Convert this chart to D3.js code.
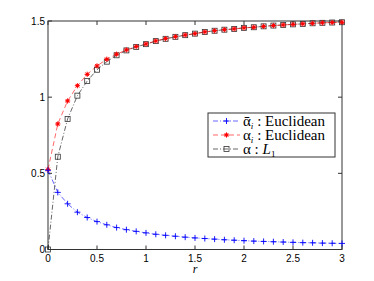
<!DOCTYPE html>
<html>
<head>
<meta charset="utf-8">
<script src="https://cdn.jsdelivr.net/npm/d3@7"></script>
<style>
body { margin: 0; background: #fff; }
svg text { font-family: "Liberation Sans", Arial, sans-serif; }
</style>
</head>
<body>
<div id="chart"></div>
<script>
var rValues = d3.range(31).map(function(i) { return +(i * 0.1).toFixed(1); });
var alphaBarEuclid = [0.52, 0.375, 0.30, 0.245, 0.21, 0.183, 0.162, 0.144, 0.130, 0.119, 0.109,
    0.100, 0.093, 0.087, 0.081, 0.076, 0.072, 0.068, 0.064, 0.061, 0.058,
    0.055, 0.053, 0.051, 0.049, 0.047, 0.045, 0.044, 0.042, 0.041, 0.040];
var alphaEuclid = [0.525, 0.824, 0.975, 1.075, 1.150, 1.205, 1.249, 1.282, 1.310, 1.332, 1.349,
    1.369, 1.384, 1.397, 1.408, 1.417, 1.428, 1.436, 1.443, 1.448, 1.455,
    1.459, 1.465, 1.470, 1.474, 1.478, 1.481, 1.485, 1.488, 1.490, 1.492];
var alphaL1 = [0, 0.609, 0.857, 1.01, 1.106, 1.18, 1.233, 1.275, 1.307, 1.330, 1.348,
    1.368, 1.383, 1.396, 1.407, 1.417, 1.428, 1.436, 1.443, 1.448, 1.455,
    1.459, 1.465, 1.470, 1.474, 1.478, 1.481, 1.485, 1.488, 1.490, 1.492];
var xTicks = [0, 0.5, 1, 1.5, 2, 2.5, 3];
var yTicks = [0, 0.5, 1, 1.5];

var width = 374, height = 281;
var mLeft = 48, mRight = 342, mTop = 21, mBottom = 249.5;

var svg = d3.select("#chart").append("svg").attr("width", width).attr("height", height);
var x = d3.scaleLinear().domain([0, 3]).range([mLeft, mRight]);
var y = d3.scaleLinear().domain([0, 1.5]).range([mBottom, mTop]);

// frame
svg.append("rect").attr("x", mLeft).attr("y", mTop).attr("width", mRight - mLeft).attr("height", mBottom - mTop)
    .style("fill", "#fff").style("stroke", "#333").style("stroke-width", 1);

// ticks (inward, on all sides)
var tickLen = 4;
xTicks.forEach(function(t) {
    svg.append("line").attr("x1", x(t)).attr("x2", x(t)).attr("y1", mBottom).attr("y2", mBottom - tickLen).style("stroke", "#333");
    svg.append("line").attr("x1", x(t)).attr("x2", x(t)).attr("y1", mTop).attr("y2", mTop + tickLen).style("stroke", "#333");
    svg.append("text").attr("x", x(t)).attr("y", mBottom + 12).attr("text-anchor", "middle")
        .style("font-size", "10px").text(t);
});
yTicks.forEach(function(t) {
    svg.append("line").attr("x1", mLeft).attr("x2", mLeft + tickLen).attr("y1", y(t)).attr("y2", y(t)).style("stroke", "#333");
    svg.append("line").attr("x1", mRight).attr("x2", mRight - tickLen).attr("y1", y(t)).attr("y2", y(t)).style("stroke", "#333");
    svg.append("text").attr("x", mLeft - 3).attr("y", y(t) + 3.5).attr("text-anchor", "end")
        .style("font-size", "10px").text(t);
});
svg.append("text").attr("x", x(1.5)).attr("y", 273).attr("text-anchor", "middle")
    .style("font-family", "Liberation Serif, serif").style("font-style", "italic").style("font-size", "12px").text("r");

var line = d3.line().x(function(d) { return x(d[0]); }).y(function(d) { return y(d[1]); });
function pairs(vals) { return rValues.map(function(r, i) { return [r, vals[i]]; }); }

var series = [
    { vals: alphaL1, color: "#000", dash: "5,2,1,2", marker: "square" },
    { vals: alphaEuclid, color: "#f00", dash: "5,3", marker: "star" },
    { vals: alphaBarEuclid, color: "#00f", dash: "5,2,1,2", marker: "plus" }
];

function drawMarker(g, type, cx, cy, color) {
    if (type === "plus") {
        g.append("path").attr("d", "M" + (cx - 3) + "," + cy + "h6M" + cx + "," + (cy - 3) + "v6")
            .style("stroke", color).style("stroke-width", 0.9);
    } else if (type === "star") {
        var p = "";
        for (var k = 0; k < 4; k++) {
            var a = k * Math.PI / 4;
            p += "M" + (cx - 2.6 * Math.cos(a)) + "," + (cy - 2.6 * Math.sin(a)) + "L" + (cx + 2.6 * Math.cos(a)) + "," + (cy + 2.6 * Math.sin(a));
        }
        g.append("path").attr("d", p).style("stroke", color).style("stroke-width", 1);
        g.append("circle").attr("cx", cx).attr("cy", cy).attr("r", 1.4).style("fill", color);
    } else {
        g.append("rect").attr("x", cx - 2.5).attr("y", cy - 2.5).attr("width", 5).attr("height", 5)
            .style("fill", "none").style("stroke", "#333").style("stroke-width", 0.8);
    }
}

var plot = svg.append("g");
series.forEach(function(s) {
    plot.append("path").datum(pairs(s.vals)).attr("d", line)
        .style("fill", "none").style("stroke", s.color).style("stroke-width", 0.6).style("stroke-dasharray", s.dash);
});
series.forEach(function(s) {
    pairs(s.vals).forEach(function(d) { drawMarker(plot, s.marker, x(d[0]), y(d[1]), s.color); });
});

// legend
var legend = svg.append("g");
legend.append("rect").attr("x", 208).attr("y", 113).attr("width", 127).attr("height", 44)
    .style("fill", "#fff").style("stroke", "#333").style("stroke-width", 1);
var legendItems = [
    { s: series[2], label: [["α\u0304", "n"], ["i", "sub"], [" : Euclidean", "n"]] },
    { s: series[1], label: [["α", "n"], ["i", "sub"], [" : Euclidean", "n"]] },
    { s: series[0], label: [["α : ", "n"], ["L", "it"], ["1", "sub1"]] }
];
legendItems.forEach(function(item, i) {
    var ly = 121 + i * 14;
    legend.append("line").attr("x1", 213).attr("x2", 240).attr("y1", ly).attr("y2", ly)
        .style("stroke", item.s.color).style("stroke-width", 0.6).style("stroke-dasharray", item.s.dash);
    drawMarker(legend, item.s.marker, 226.5, ly, item.s.color);
    var t = legend.append("text").attr("x", 243).attr("y", ly + 4.5)
        .style("font-family", "Liberation Serif, serif").style("font-size", "15px");
    var lowered = false;
    item.label.forEach(function(part) {
        var ts = t.append("tspan").text(part[0]);
        if (part[1] === "sub" || part[1] === "sub1") {
            ts.style("font-size", "9px").attr("dy", 3);
            if (part[1] === "sub") ts.style("font-style", "italic");
            lowered = true;
        } else {
            if (part[1] === "it") ts.style("font-style", "italic");
            if (lowered) { ts.attr("dy", -3); lowered = false; }
        }
    });
});
</script>
</body>
</html>
